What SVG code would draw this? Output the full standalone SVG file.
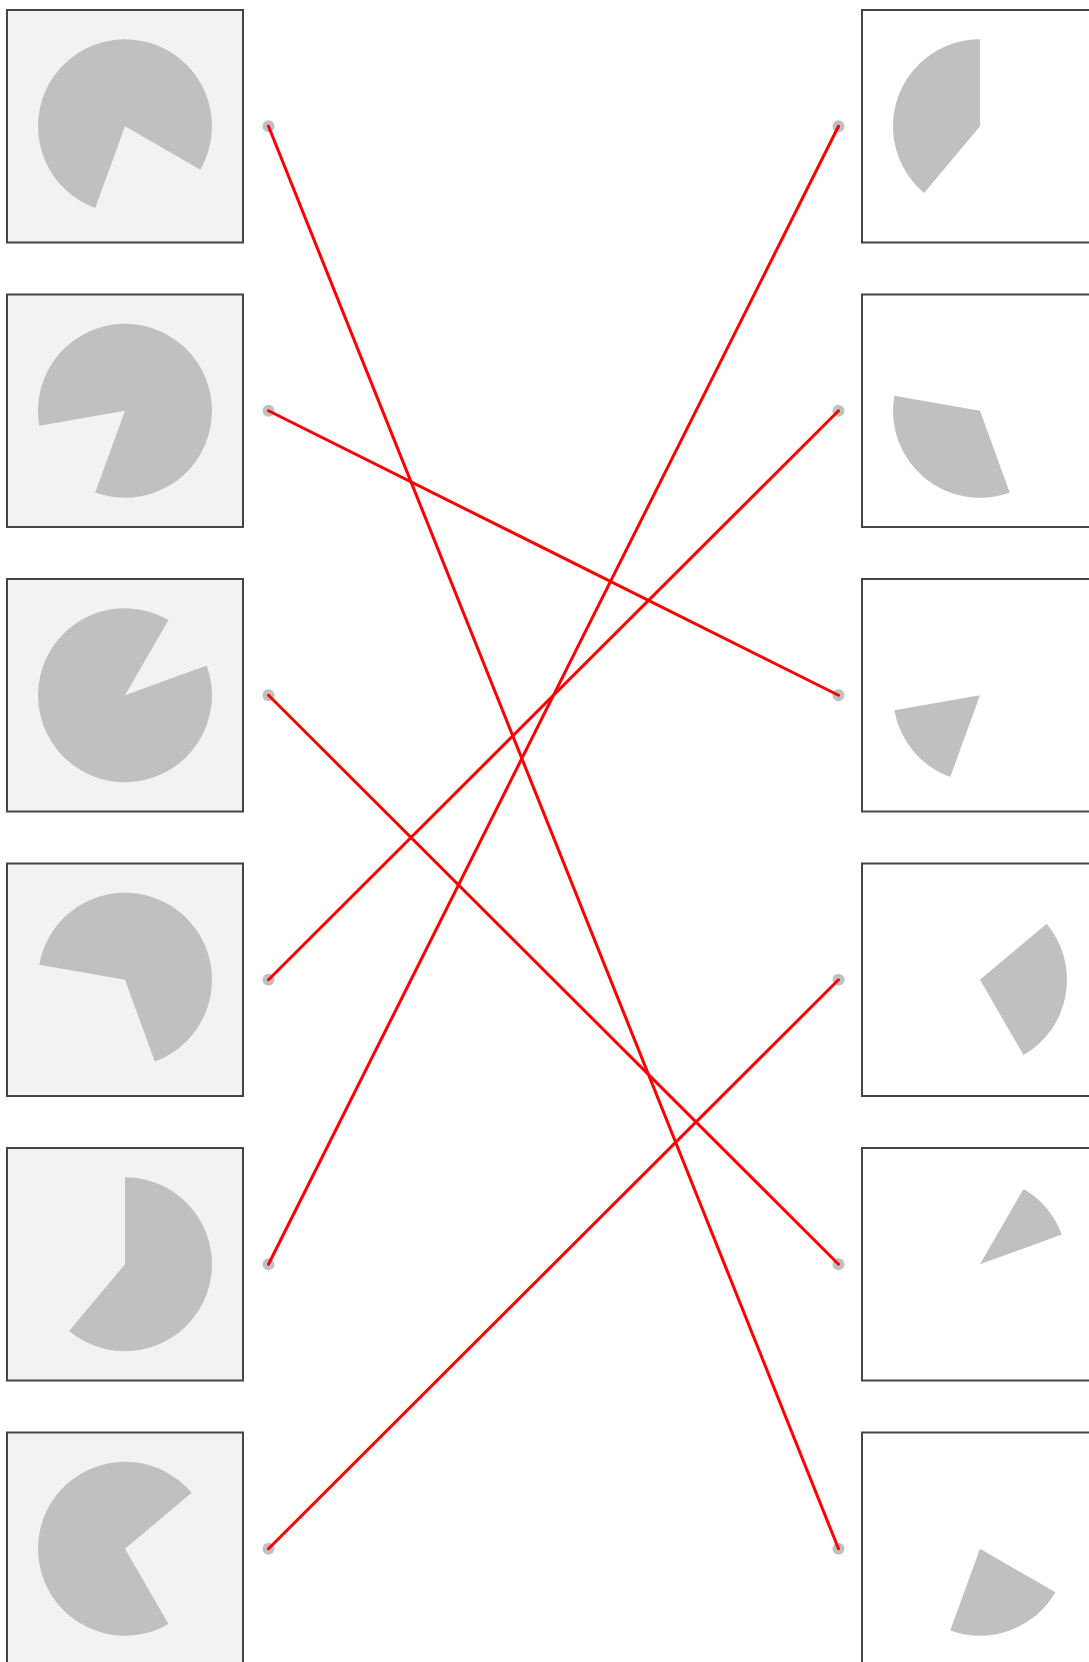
<svg xmlns="http://www.w3.org/2000/svg" width="1089" height="1662" viewBox="0 0 1089 1662">
<style>
.box{stroke:#454545;stroke-width:2}
.lb{fill:#f2f2f2}
.rb{fill:#ffffff}
.pie{fill:#c0c0c0}
.dot{fill:#c0c0c0}
.link{stroke:#ff0000;stroke-width:3;fill:none;stroke-linecap:round}
</style>
<rect width="1089" height="1662" fill="#ffffff"/>
<g id="left-1"><rect class="box lb" x="7" y="10" width="236" height="232.5"/><path class="pie" transform="translate(125,126.25)" d="M0,0 L-29.76,81.75 A87,87 0 1 1 75.34,43.5 Z"/><circle class="dot" cx="268.5" cy="126.25" r="6"/></g>
<g id="left-2"><rect class="box lb" x="7" y="294.5" width="236" height="232.5"/><path class="pie" transform="translate(125,410.75)" d="M0,0 L-85.68,15.11 A87,87 0 1 1 -29.76,81.75 Z"/><circle class="dot" cx="268.5" cy="410.75" r="6"/></g>
<g id="left-3"><rect class="box lb" x="7" y="579" width="236" height="232.5"/><path class="pie" transform="translate(125,695.25)" d="M0,0 L81.75,-29.76 A87,87 0 1 1 43.5,-75.34 Z"/><circle class="dot" cx="268.5" cy="695.25" r="6"/></g>
<g id="left-4"><rect class="box lb" x="7" y="863.5" width="236" height="232.5"/><path class="pie" transform="translate(125,979.75)" d="M0,0 L-85.68,-15.11 A87,87 0 1 1 29.76,81.75 Z"/><circle class="dot" cx="268.5" cy="979.75" r="6"/></g>
<g id="left-5"><rect class="box lb" x="7" y="1148" width="236" height="232.5"/><path class="pie" transform="translate(125,1264.25)" d="M0,0 L0,-87 A87,87 0 1 1 -55.92,66.65 Z"/><circle class="dot" cx="268.5" cy="1264.25" r="6"/></g>
<g id="left-6"><rect class="box lb" x="7" y="1432.5" width="236" height="232.5"/><path class="pie" transform="translate(125,1548.75)" d="M0,0 L43.5,75.34 A87,87 0 1 1 66.65,-55.92 Z"/><circle class="dot" cx="268.5" cy="1548.75" r="6"/></g>
<g id="right-1"><rect class="box rb" x="862" y="10" width="236" height="232.5"/><path class="pie" transform="translate(980,126.25)" d="M0,0 L-55.92,66.65 A87,87 0 0 1 0,-87 Z"/><circle class="dot" cx="838.5" cy="126.25" r="6"/></g>
<g id="right-2"><rect class="box rb" x="862" y="294.5" width="236" height="232.5"/><path class="pie" transform="translate(980,410.75)" d="M0,0 L29.76,81.75 A87,87 0 0 1 -85.68,-15.11 Z"/><circle class="dot" cx="838.5" cy="410.75" r="6"/></g>
<g id="right-3"><rect class="box rb" x="862" y="579" width="236" height="232.5"/><path class="pie" transform="translate(980,695.25)" d="M0,0 L-29.76,81.75 A87,87 0 0 1 -85.68,15.11 Z"/><circle class="dot" cx="838.5" cy="695.25" r="6"/></g>
<g id="right-4"><rect class="box rb" x="862" y="863.5" width="236" height="232.5"/><path class="pie" transform="translate(980,979.75)" d="M0,0 L66.65,-55.92 A87,87 0 0 1 43.5,75.34 Z"/><circle class="dot" cx="838.5" cy="979.75" r="6"/></g>
<g id="right-5"><rect class="box rb" x="862" y="1148" width="236" height="232.5"/><path class="pie" transform="translate(980,1264.25)" d="M0,0 L43.5,-75.34 A87,87 0 0 1 81.75,-29.76 Z"/><circle class="dot" cx="838.5" cy="1264.25" r="6"/></g>
<g id="right-6"><rect class="box rb" x="862" y="1432.5" width="236" height="232.5"/><path class="pie" transform="translate(980,1548.75)" d="M0,0 L75.34,43.5 A87,87 0 0 1 -29.76,81.75 Z"/><circle class="dot" cx="838.5" cy="1548.75" r="6"/></g>
<g id="connectors">
<line class="link" x1="268.5" y1="126.25" x2="838.5" y2="1548.75"/>
<line class="link" x1="268.5" y1="410.75" x2="838.5" y2="695.25"/>
<line class="link" x1="268.5" y1="695.25" x2="838.5" y2="1264.25"/>
<line class="link" x1="268.5" y1="979.75" x2="838.5" y2="410.75"/>
<line class="link" x1="268.5" y1="1264.25" x2="838.5" y2="126.25"/>
<line class="link" x1="268.5" y1="1548.75" x2="838.5" y2="979.75"/>
</g>
</svg>
